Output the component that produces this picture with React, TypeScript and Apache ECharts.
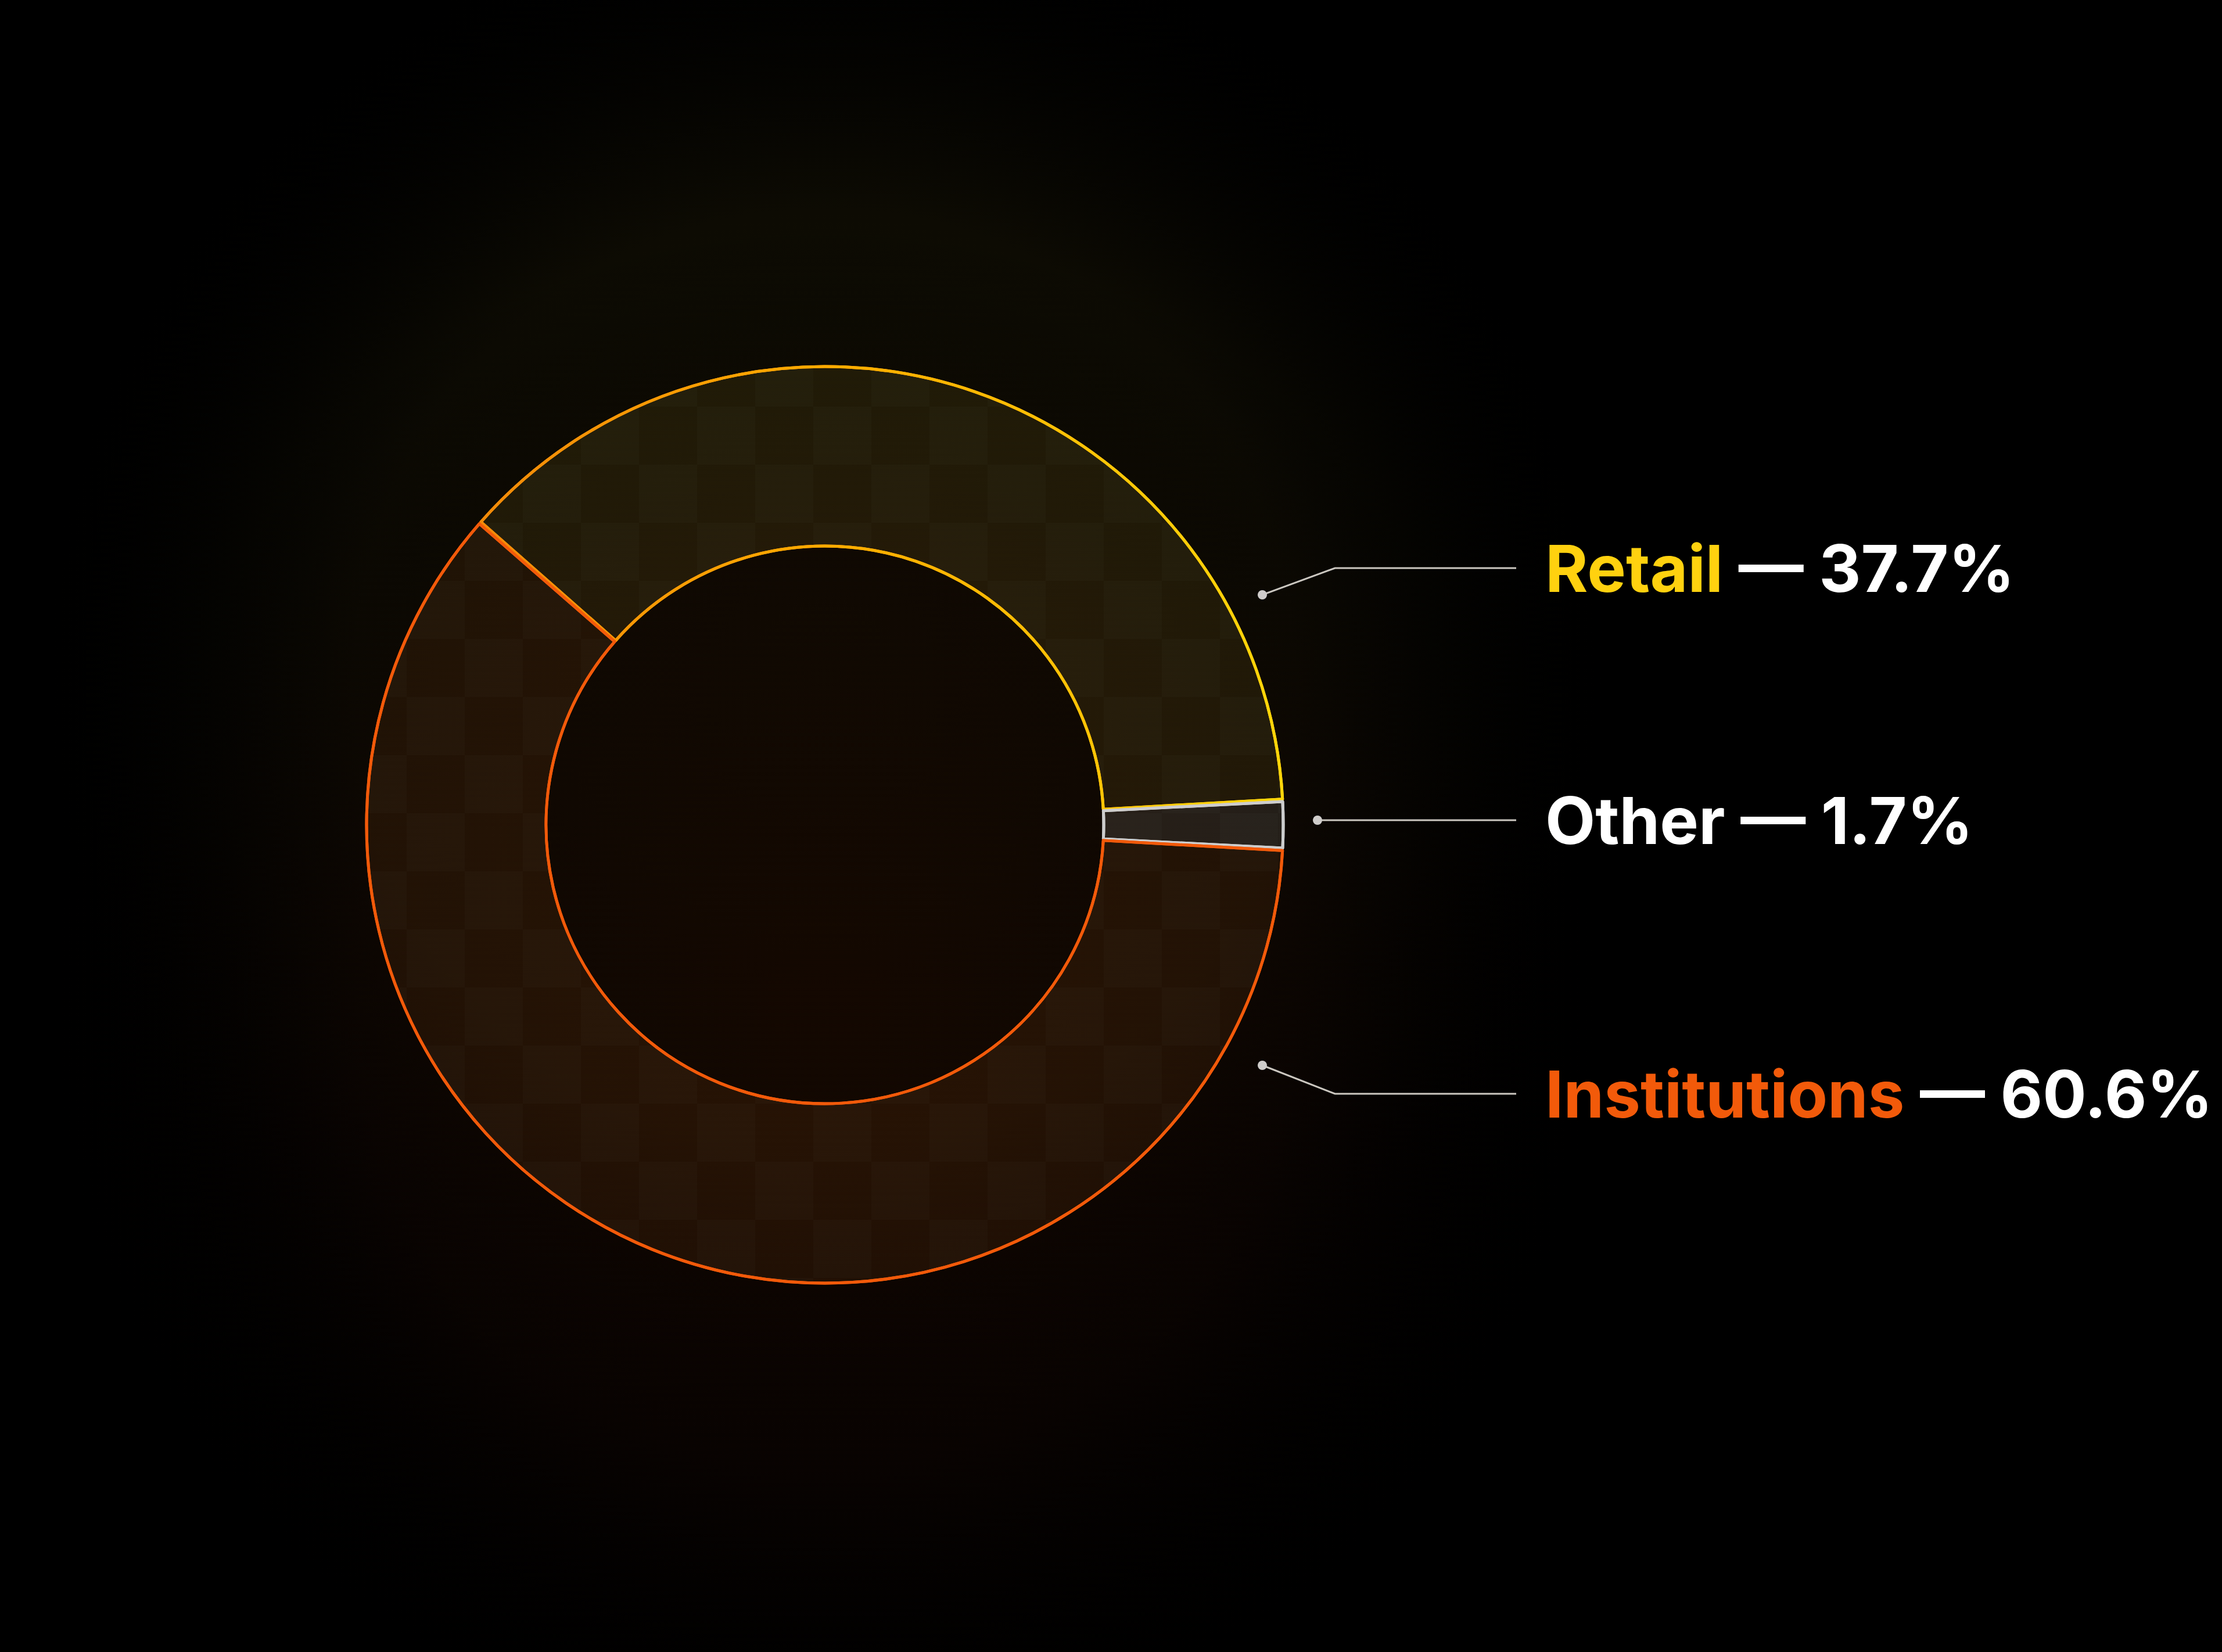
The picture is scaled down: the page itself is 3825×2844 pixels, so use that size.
import React, { useEffect, useRef } from 'react';
import * as echarts from 'echarts';

// ---- data ----
const categories = ['Retail', 'Other', 'Institutions'];
const shares = [37.7, 1.7, 60.6];
const nameColors = ['#FFD10F', '#FFFFFF', '#F25A0A'];
const sliceFills = ['rgba(255,205,70,0.085)', 'rgba(225,215,205,0.11)', 'rgba(255,140,50,0.085)'];
const sliceBorders = ['gradient', '#CDCDCD', '#F25A0A'];

// ---- layout ----
const W = 3825;
const H = 2844;
const CX = 1420;
const CY = 1420;
const R_IN = 480;
const R_OUT = 789;
const calloutLabelY = [978, 1412, 1883];
const calloutDots = [
  [2173, 1024],
  [2268, 1412],
  [2173, 1834],
];
const ELBOW_X = 2298;
const END_X = 2610;
const LABEL_X = 2660;
const FONT = 'Inter, "Noto Sans", sans-serif';

export default function App() {
  const ref = useRef<HTMLDivElement>(null);

  useEffect(() => {
    const el = ref.current;
    if (!el) return;
    const chart = echarts.init(el, null, { renderer: 'svg', width: W, height: H });

    const total = shares.reduce((a, b) => a + b, 0);
    // centre the "Other" slice on 3 o'clock
    const startAngle = (360 * (shares[0] + shares[1] / 2)) / total;

    const retailBorder = new echarts.graphic.LinearGradient(0, 0, 1, 0, [
      { offset: 0, color: '#F38A08' },
      { offset: 0.45, color: '#FFAC00' },
      { offset: 1, color: '#FFD60A' },
    ]);

    const decal = {
      symbol: 'rect',
      symbolSize: 1,
      color: 'rgba(255,255,255,0.014)',
      dashArrayX: [
        [100, 100],
        [0, 100, 100, 0],
      ],
      dashArrayY: [100, 0],
      rotation: 0,
      maxTileWidth: 512,
      maxTileHeight: 512,
    };

    const data = categories.map((name, i) => ({
      name,
      value: shares[i],
      itemStyle: {
        color: sliceFills[i],
        borderColor: sliceBorders[i] === 'gradient' ? retailBorder : sliceBorders[i],
        borderWidth: 5,
        decal,
      },
    }));

    const graphics: any[] = [
      {
        type: 'circle',
        z: 0,
        silent: true,
        shape: { cx: CX, cy: CY - 250, r: 1350 },
        style: {
          fill: new echarts.graphic.RadialGradient(0.5, 0.5, 0.5, [
            { offset: 0, color: 'rgba(18,16,3,1)' },
            { offset: 0.6, color: 'rgba(13,11,3,1)' },
            { offset: 1, color: 'rgba(0,0,0,0)' },
          ]),
        },
      },
      {
        type: 'circle',
        z: 0,
        silent: true,
        shape: { cx: CX, cy: CY + 300, r: 1350 },
        style: {
          fill: new echarts.graphic.RadialGradient(0.5, 0.5, 0.5, [
            { offset: 0, color: 'rgba(22,6,0,0.72)' },
            { offset: 0.6, color: 'rgba(14,5,2,0.6)' },
            { offset: 1, color: 'rgba(0,0,0,0)' },
          ]),
        },
      },
    ];

    categories.forEach((name, i) => {
      const y = calloutLabelY[i];
      const [dx, dy] = calloutDots[i];
      graphics.push({
        type: 'polyline',
        z: 10,
        silent: true,
        shape: {
          points: [
            [dx, dy],
            [ELBOW_X, y],
            [END_X, y],
          ],
        },
        style: { stroke: '#CBC7C0', lineWidth: 3, fill: null },
      });
      graphics.push({
        type: 'circle',
        z: 11,
        silent: true,
        shape: { cx: dx, cy: dy, r: 8 },
        style: { fill: '#CFCCCA' },
      });
      const pct = `${shares[i].toFixed(1)}%`;
      graphics.push({
        type: 'text',
        z: 12,
        silent: true,
        x: LABEL_X,
        y,
        style: {
          text: `{n|${name}}{v| \u2014 ${pct}}`,
          align: 'left',
          verticalAlign: 'middle',
          textAlign: 'left',
          textVerticalAlign: 'middle',
          rich: {
            n: { fill: nameColors[i], fontSize: 112, fontWeight: 700, fontFamily: FONT },
            v: { fill: '#FFFFFF', fontSize: 112, fontWeight: 700, fontFamily: FONT },
          },
        },
      });
    });

    chart.setOption({
      animation: false,
      backgroundColor: '#000000',
      graphic: graphics,
      series: [
        {
          type: 'pie',
          z: 5,
          center: [CX, CY],
          radius: [R_IN, R_OUT],
          startAngle,
          clockwise: true,
          padAngle: 0.3,
          silent: true,
          avoidLabelOverlap: false,
          label: { show: false },
          labelLine: { show: false },
          emphasis: { disabled: true },
          data,
        },
      ],
    });

    return () => chart.dispose();
  }, []);

  return (
    <div
      ref={ref}
      style={{ position: 'fixed', left: 0, top: 0, width: W, height: H }}
    />
  );
}
